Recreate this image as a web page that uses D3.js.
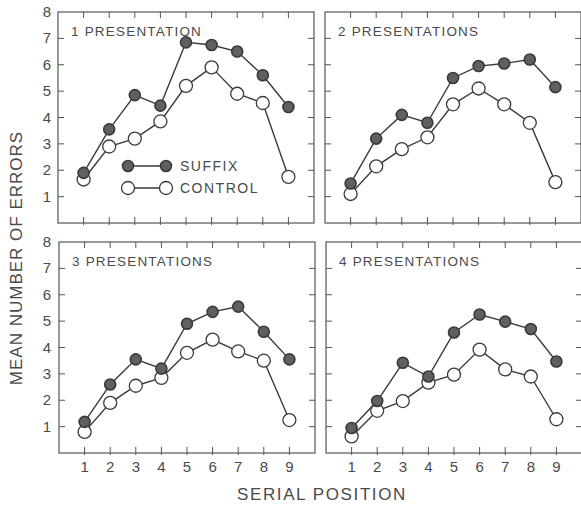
<!DOCTYPE html>
<html>
<head>
<meta charset="utf-8">
<script src="https://cdn.jsdelivr.net/npm/d3@7"></script>
<style>
  body { margin: 0; background: #fff; }
  text { font-family: "Liberation Sans", "DejaVu Sans", sans-serif; fill: #4a4a4a; }
</style>
</head>
<body>
<svg width="581" height="506"></svg>
<script>
var svg = d3.select("svg");

// serial positions and y ticks
var positions = [1, 2, 3, 4, 5, 6, 7, 8, 9];
var yTicks = [1, 2, 3, 4, 5, 6, 7, 8];

var titles = ["1 PRESENTATION", "2 PRESENTATIONS", "3 PRESENTATIONS", "4 PRESENTATIONS"];

// mean errors
var suffix1 = [1.9, 3.55, 4.85, 4.45, 6.85, 6.75, 6.5, 5.6, 4.4];
var control1 = [1.65, 2.9, 3.2, 3.85, 5.2, 5.9, 4.9, 4.55, 1.75];
var suffix2 = [1.5, 3.2, 4.1, 3.8, 5.5, 5.95, 6.05, 6.2, 5.15];
var control2 = [1.1, 2.15, 2.8, 3.25, 4.5, 5.1, 4.5, 3.8, 1.55];
var suffix3 = [1.18, 2.6, 3.55, 3.2, 4.9, 5.35, 5.55, 4.6, 3.55];
var control3 = [0.8, 1.9, 2.55, 2.85, 3.8, 4.3, 3.85, 3.5, 1.25];
var suffix4 = [0.95, 1.97, 3.42, 2.9, 4.57, 5.25, 4.98, 4.7, 3.47];
var control4 = [0.63, 1.6, 1.97, 2.67, 2.97, 3.92, 3.17, 2.9, 1.28];

var suffixes = [suffix1, suffix2, suffix3, suffix4];
var controls = [control1, control2, control3, control4];

var panelW = 256, panelH = 211;
var origins = [[58, 12], [325, 12], [59, 242], [326, 242]];

var ink = "#3a3a3a";

origins.forEach(function (o, i) {
  var x = d3.scaleLinear().domain([0, 10]).range([o[0], o[0] + panelW]);
  var y = d3.scaleLinear().domain([0, 8]).range([o[1] + panelH, o[1]]);
  var g = svg.append("g");

  // frame
  g.append("rect")
    .attr("x", o[0]).attr("y", o[1])
    .attr("width", panelW).attr("height", panelH)
    .attr("fill", "none").attr("stroke", "#555").attr("stroke-width", 1.2);

  // inner ticks on all four sides
  g.selectAll(".tb").data(positions).enter().append("line")
    .attr("x1", d => x(d)).attr("x2", d => x(d))
    .attr("y1", o[1]).attr("y2", o[1] + 6)
    .attr("stroke", "#555");
  g.selectAll(".bt").data(positions).enter().append("line")
    .attr("x1", d => x(d)).attr("x2", d => x(d))
    .attr("y1", o[1] + panelH + 2).attr("y2", o[1] + panelH - 6)
    .attr("stroke", "#555");
  g.selectAll(".lt").data(yTicks.slice(0, 7)).enter().append("line")
    .attr("x1", o[0]).attr("x2", o[0] + 6)
    .attr("y1", d => y(d)).attr("y2", d => y(d))
    .attr("stroke", "#555");
  g.selectAll(".rt").data(yTicks.slice(0, 7)).enter().append("line")
    .attr("x1", o[0] + panelW).attr("x2", o[0] + panelW - 6)
    .attr("y1", d => y(d)).attr("y2", d => y(d))
    .attr("stroke", "#555");

  // y tick labels on left panels
  if (i % 2 == 0) {
    g.selectAll(".yl").data(yTicks).enter().append("text")
      .attr("x", 47).attr("y", d => y(d) + 5)
      .attr("text-anchor", "middle")
      .attr("font-size", 15)
      .text(d => d);
  }
  // x tick labels on bottom panels
  if (i >= 2) {
    g.selectAll(".xl").data(positions).enter().append("text")
      .attr("x", d => x(d)).attr("y", o[1] + panelH + 19)
      .attr("text-anchor", "middle")
      .attr("font-size", 15)
      .text(d => d);
  }

  // panel title
  g.append("text")
    .attr("x", o[0] + 13).attr("y", o[1] + 24)
    .attr("font-size", 13.5)
    .attr("letter-spacing", 1.2)
    .text(titles[i]);

  var line = d3.line().x((d, j) => x(positions[j])).y(d => y(d));

  [controls[i], suffixes[i]].forEach(function (vals, k) {
    var filled = k == 1;
    g.append("path").datum(vals)
      .attr("d", line)
      .attr("fill", "none").attr("stroke", ink).attr("stroke-width", 1.4);
    g.selectAll(filled ? ".sf" : ".ct").data(vals).enter().append("circle")
      .attr("cx", (d, j) => x(positions[j])).attr("cy", d => y(d))
      .attr("r", filled ? 5.5 : 6.5)
      .attr("fill", filled ? "#606060" : "#fff")
      .attr("stroke", ink).attr("stroke-width", filled ? 1.6 : 1.3);
  });
});

// legend in first panel
var legend = [["SUFFIX", true, 166], ["CONTROL", false, 188]];
legend.forEach(function (l) {
  svg.append("line")
    .attr("x1", 128).attr("x2", 166).attr("y1", l[2]).attr("y2", l[2])
    .attr("stroke", ink).attr("stroke-width", 1.4);
  [128, 166].forEach(function (cx) {
    svg.append("circle")
      .attr("cx", cx).attr("cy", l[2])
      .attr("r", l[1] ? 5.5 : 6.5)
      .attr("fill", l[1] ? "#606060" : "#fff")
      .attr("stroke", ink).attr("stroke-width", l[1] ? 1.6 : 1.3);
  });
  svg.append("text")
    .attr("x", 180).attr("y", l[2] + 5)
    .attr("font-size", 14)
    .attr("letter-spacing", 1.5)
    .text(l[0]);
});

// axis titles
svg.append("text")
  .attr("transform", "translate(22,258) rotate(-90)")
  .attr("text-anchor", "middle")
  .attr("font-size", 17)
  .attr("letter-spacing", 1)
  .text("MEAN NUMBER OF ERRORS");

svg.append("text")
  .attr("x", 322).attr("y", 500)
  .attr("text-anchor", "middle")
  .attr("font-size", 17)
  .attr("letter-spacing", 1.6)
  .text("SERIAL POSITION");
</script>
</body>
</html>
